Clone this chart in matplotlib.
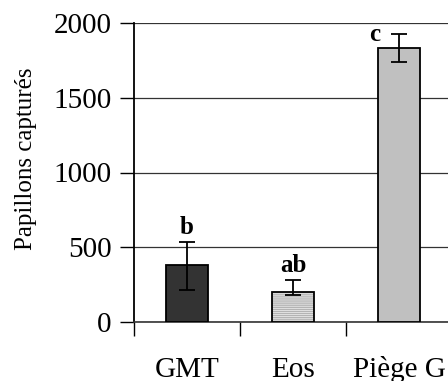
"""Papillons capturés par type de piège (barres + erreurs + lettres)."""

import matplotlib.pyplot as plt
import numpy as np

CATEGORIES = ["GMT", "Eos", "Piège G"]
MEANS = [383, 203, 1835]
ERR_LOW = [168, 25, 98]
ERR_HIGH = [152, 78, 92]
LETTERS = ["b", "ab", "c"]
Y_TICKS = [0, 500, 1000, 1500, 2000]

FACES = ["#333333", "#f2f2f2", "#c0c0c0"]
HATCHES = [None, "--------", None]

plt.rcParams["font.family"] = ["Liberation Serif", "DejaVu Serif"]
plt.rcParams["hatch.linewidth"] = 1.0

fig = plt.figure(figsize=(4.48, 3.81), dpi=100)
ax = fig.add_axes([134 / 448, 59 / 381, 424 / 448, 299 / 381])

x = np.arange(len(CATEGORIES))
# fill + hatch first (grey hatch lines), black outline on top
fills = ax.bar(x, MEANS, width=0.4, color=FACES, edgecolor="#b4b4b4",
               linewidth=0, zorder=3)
for bar, hatch in zip(fills, HATCHES):
    if hatch:
        bar.set_hatch(hatch)
ax.bar(x, MEANS, width=0.4, fill=False, edgecolor="black", linewidth=1.3,
       zorder=3.5)
ax.errorbar(x, MEANS, yerr=[ERR_LOW, ERR_HIGH], fmt="none", ecolor="black",
            elinewidth=1.3, capsize=6, capthick=1.3, zorder=4)

# letters above the bars
offsets = [(0, 18), (0, 18), (-0.23, -82)]
for xi, m, hi, lab, (dx, dy) in zip(x, MEANS, ERR_HIGH, LETTERS, offsets):
    ax.text(xi + dx, m + hi + dy, lab, ha="center", va="bottom",
            fontsize=18, fontweight="bold")

ax.set_xlim(-0.5, 3.5)
ax.set_ylim(0, 2000)
ax.set_yticks(Y_TICKS)
ax.set_yticklabels([str(t) for t in Y_TICKS], fontsize=21)
ax.yaxis.grid(True, color="#333333", linewidth=0.9, zorder=0)
ax.set_axisbelow(True)

ax.set_xticks([-0.5, 0.5, 1.5, 2.5])
ax.set_xticklabels([])
ax.tick_params(axis="x", direction="out", length=10, width=1, color="black")
ax.tick_params(axis="y", direction="out", length=10, width=1, pad=6)
for xi, lab in zip(x, CATEGORIES):
    ax.text(xi, -365, lab, ha="center", va="baseline", fontsize=21,
            transform=ax.transData, clip_on=False)

ax.set_ylabel("Papillons capturés", fontsize=18)
ax.yaxis.set_label_coords(-0.228, 0.545)

for side in ["top", "right"]:
    ax.spines[side].set_visible(False)
ax.spines["left"].set_linewidth(1.3)
ax.spines["bottom"].set_color("#333333")
ax.spines["bottom"].set_linewidth(1.2)

fig.savefig("out.png", dpi=100)
